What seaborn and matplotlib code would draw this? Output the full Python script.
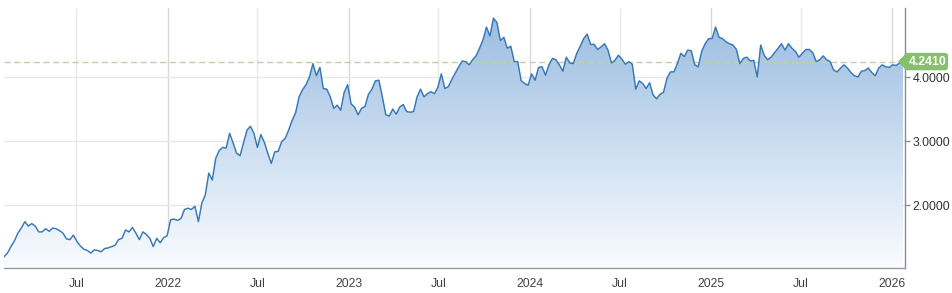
import numpy as np
import pandas as pd
import matplotlib
matplotlib.use("Agg")
import matplotlib.pyplot as plt
import matplotlib.dates as mdates
import matplotlib.transforms as mtransforms
from matplotlib.colors import LinearSegmentedColormap
from matplotlib.patches import Polygon, FancyBboxPatch
import seaborn as sns

# ---------------- data (weekly closes) ----------------
start_date = "2021-02-05"
yields_2021 = [1.19, 1.25, 1.35, 1.44, 1.56, 1.64, 1.74, 1.67, 1.71, 1.67,
               1.58, 1.58, 1.63, 1.59, 1.64, 1.63, 1.60, 1.56, 1.47, 1.46,
               1.53, 1.43, 1.36, 1.31, 1.29, 1.25, 1.30, 1.29, 1.27, 1.32,
               1.33, 1.35, 1.37, 1.46, 1.48, 1.61, 1.58, 1.65, 1.56, 1.46,
               1.58, 1.54, 1.48, 1.35, 1.48, 1.41, 1.49, 1.52]
yields_2022 = [1.77, 1.78, 1.76, 1.79, 1.93, 1.95, 1.93, 1.98, 1.74, 2.03,
               2.16, 2.50, 2.39, 2.73, 2.85, 2.90, 2.89, 3.12, 2.97, 2.81,
               2.77, 2.97, 3.17, 3.23, 3.12, 2.90, 3.10, 2.98, 2.81, 2.65,
               2.83, 2.84, 2.99, 3.04, 3.17, 3.32, 3.44, 3.69, 3.80, 3.88,
               4.00, 4.21, 4.02, 4.15, 3.82, 3.81, 3.69, 3.51, 3.56, 3.48,
               3.76, 3.88]
yields_2023 = [3.58, 3.53, 3.41, 3.51, 3.54, 3.73, 3.81, 3.94, 3.95, 3.69,
               3.41, 3.39, 3.50, 3.42, 3.53, 3.57, 3.46, 3.45, 3.46, 3.69,
               3.81, 3.69, 3.74, 3.77, 3.74, 3.84, 4.05, 3.82, 3.85, 3.96,
               4.06, 4.16, 4.25, 4.24, 4.19, 4.27, 4.33, 4.45, 4.58, 4.78,
               4.64, 4.92, 4.85, 4.57, 4.62, 4.45, 4.48, 4.24, 4.24, 3.94,
               3.90, 3.87]
yields_2024 = [4.05, 3.95, 4.15, 4.16, 4.03, 4.19, 4.29, 4.27, 4.19, 4.09,
               4.31, 4.22, 4.21, 4.37, 4.48, 4.60, 4.67, 4.51, 4.51, 4.43,
               4.47, 4.52, 4.42, 4.22, 4.26, 4.34, 4.28, 4.20, 4.24, 4.20,
               3.81, 3.94, 3.90, 3.82, 3.91, 3.72, 3.66, 3.73, 3.76, 3.98,
               4.08, 4.08, 4.21, 4.37, 4.32, 4.42, 4.41, 4.19, 4.16, 4.40,
               4.52, 4.60]
yields_2025 = [4.60, 4.78, 4.62, 4.60, 4.55, 4.52, 4.50, 4.43, 4.21, 4.29,
               4.31, 4.25, 4.26, 4.00, 4.50, 4.34, 4.27, 4.31, 4.38, 4.45,
               4.52, 4.42, 4.52, 4.45, 4.40, 4.31, 4.37, 4.43, 4.43, 4.38,
               4.24, 4.27, 4.33, 4.27, 4.24, 4.11, 4.08, 4.14, 4.19, 4.14,
               4.07, 4.02, 4.00, 4.09, 4.10, 4.14, 4.07, 4.02, 4.14, 4.19,
               4.16, 4.15]
yields_2026 = [4.19, 4.18, 4.22, 4.241]
last_value = 4.2410

y_ticks = [2.0, 3.0, 4.0]
x_tick_dates = ["2021-07-01", "2022-01-01", "2022-07-01", "2023-01-01",
                "2023-07-01", "2024-01-01", "2024-07-01", "2025-01-01",
                "2025-07-01", "2026-01-01"]
x_tick_labels = ["Jul", "2022", "Jul", "2023", "Jul", "2024", "Jul", "2025",
                 "Jul", "2026"]

values = yields_2021 + yields_2022 + yields_2023 + yields_2024 + yields_2025 + yields_2026
dates = pd.date_range(start_date, periods=len(values), freq="W-FRI")
df = pd.DataFrame({"date": dates, "value": values})

# ---------------- style ----------------
sns.set_style("white")
plt.rcParams["font.family"] = ["Liberation Sans", "DejaVu Sans"]

W, H = 952, 293
fig = plt.figure(figsize=(W / 100, H / 100), dpi=100)
ax = fig.add_axes([4 / W, 1 - 268 / H, (905 - 4) / W, (268 - 8) / H])

x0 = mdates.date2num(pd.Timestamp("2021-02-05"))
x1 = mdates.date2num(pd.Timestamp("2026-01-27"))
ymin, ymax = 1.016, 5.078
ax.set_xlim(x0, x1)
ax.set_ylim(ymin, ymax)

# gridlines
for d, lab in zip(x_tick_dates, x_tick_labels):
    c = "#d8d8d8" if lab != "Jul" else "#e9e9e9"
    ax.axvline(mdates.date2num(pd.Timestamp(d)), color=c, lw=1, zorder=0)
for yt in y_ticks:
    ax.axhline(yt, color="#e8e8e8", lw=1, zorder=0)

# gradient area
xnum = mdates.date2num(df["date"])
poly = ax.fill_between(xnum, df["value"], ymin, facecolor="none", edgecolor="none")
cmap = LinearSegmentedColormap.from_list("g", ["#fafcff", "#c9dcf0", "#98badf"])
grad = np.linspace(0, 1, 256).reshape(-1, 1)
im = ax.imshow(grad, extent=[x0, x1, ymin, ymax], origin="lower", aspect="auto",
               cmap=cmap, zorder=1, interpolation="bicubic")
im.set_clip_path(poly.get_paths()[0], transform=ax.transData)

# line
sns.lineplot(data=df, x="date", y="value", color="#3778b6", linewidth=1.05,
             ax=ax, zorder=3)
ax.set_xlim(x0, x1)
ax.set_ylim(ymin, ymax)

# dashed last-value line
ax.axhline(last_value, color="#bcd3a6", lw=1, ls=(0, (4.5, 2.5)), zorder=2)

# axes styling
for s in ["left", "top"]:
    ax.spines[s].set_visible(False)
ax.spines["right"].set_color("#8c8c8c")
ax.spines["bottom"].set_color("#9a9a9a")
ax.spines["right"].set_linewidth(1)
ax.spines["bottom"].set_linewidth(1)

ax.set_xticks([mdates.date2num(pd.Timestamp(d)) for d in x_tick_dates])
ax.set_xticklabels(x_tick_labels)
ax.yaxis.tick_right()
ax.set_yticks(y_ticks)
ax.set_yticklabels([f"{v:.4f}" for v in y_ticks])
ax.tick_params(axis="x", length=0, pad=7, labelsize=8.8, labelcolor="#444444")
ax.tick_params(axis="y", length=3.5, width=1, color="#8c8c8c", pad=2,
               labelsize=8.8, labelcolor="#333333")
ax.set_xlabel("")
ax.set_ylabel("")

# value tag
fig.canvas.draw()
last_x = xnum[-1]
px, py = ax.transData.transform((last_x, last_value))
ident = mtransforms.IdentityTransform()
tip_x = px - 5
rect_x0 = px + 1.5
rect_w = 948 - rect_x0
rect_h = 17.5
green = "#86c06c"
tri = Polygon([[tip_x, py], [rect_x0 + 2, py + rect_h / 2], [rect_x0 + 2, py - rect_h / 2]],
              closed=True, facecolor=green, edgecolor="none", transform=ident, zorder=5)
box = FancyBboxPatch((rect_x0, py - rect_h / 2), rect_w, rect_h,
                     boxstyle="round,pad=0,rounding_size=3", facecolor=green,
                     edgecolor="none", transform=ident, zorder=5)
fig.add_artist(tri)
fig.add_artist(box)
fig.text((rect_x0 + rect_w / 2 + 1) / W, py / H, f"{last_value:.4f}", color="white",
         fontsize=8.8, fontweight="bold", ha="center", va="center", zorder=6)
ax.scatter([last_x], [last_value], s=22, color="#2aa9e6", zorder=7, clip_on=False,
           edgecolors="none")

fig.savefig("out.png", dpi=100)
